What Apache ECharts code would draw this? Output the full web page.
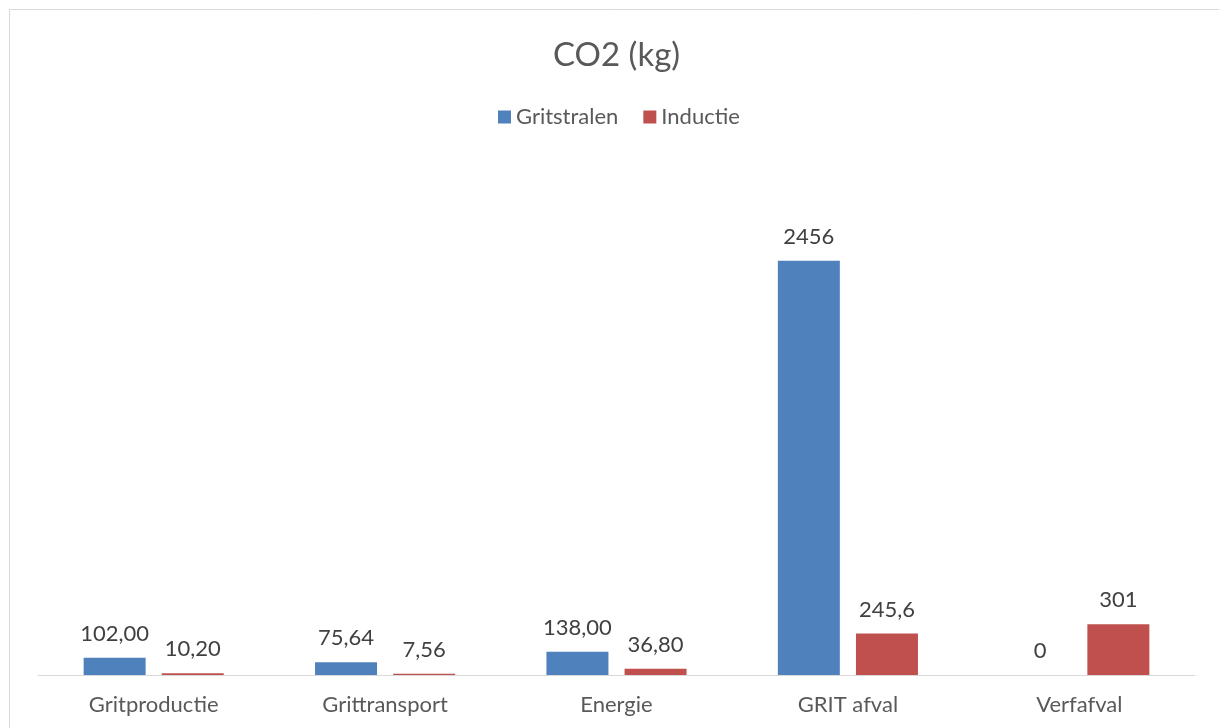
<!DOCTYPE html>
<html>
<head>
<meta charset="utf-8">
<script src="https://cdn.jsdelivr.net/npm/echarts@6/dist/echarts.min.js"></script>
<style>html,body{margin:0;padding:0;background:#fff;}#c{width:1219px;height:728px;}</style>
</head>
<body>
<div id="c"></div>
<script>
const categories = ["Gritproductie", "Grittransport", "Energie", "GRIT afval", "Verfafval"];
const gritstralen = [102.00, 75.64, 138.00, 2456, 0];
const inductie = [10.20, 7.56, 36.80, 245.6, 301];
const gritstralenLabels = ["102,00", "75,64", "138,00", "2456", "0"];
const inductieLabels = ["10,20", "7,56", "36,80", "245,6", "301"];

const font = "Lato, 'Liberation Sans', sans-serif";
const chart = echarts.init(document.getElementById('c'), null, {renderer: 'canvas'});
chart.setOption({
  animation: false,
  backgroundColor: '#fff',
  title: {
    text: 'CO2 (kg)', left: 548, top: 34,
    textStyle: {fontFamily: font, fontSize: 33, fontWeight: 'normal', color: '#595959'}
  },
  legend: {
    top: 101, left: 493, itemWidth: 13, itemHeight: 13, itemGap: 25,
    icon: 'rect',
    textStyle: {fontFamily: font, fontSize: 22, color: '#595959'},
    data: ['Gritstralen', 'Inductie']
  },
  graphic: [{
    type: 'rect', silent: true,
    shape: {x: 9.5, y: 9.5, width: 1300, height: 800},
    style: {fill: 'none', stroke: '#d9d9d9', lineWidth: 1}
  }],
  grid: {left: 38, right: 24, top: 169, bottom: 53},
  xAxis: {
    type: 'category', data: categories,
    axisLine: {lineStyle: {color: '#d9d9d9', width: 1}},
    axisTick: {show: false},
    axisLabel: {fontFamily: font, fontSize: 22, color: '#595959', margin: 19}
  },
  yAxis: {
    type: 'value', min: 0, max: 3000, interval: 500, show: false,
    splitLine: {show: false}
  },
  series: [
    {
      name: 'Gritstralen', type: 'bar', data: gritstralen,
      itemStyle: {color: '#4F81BD'},
      barWidth: 62, barGap: '26%',
      label: {show: true, position: 'top', distance: 13, fontFamily: font, fontSize: 22, color: '#404040',
        formatter: p => gritstralenLabels[p.dataIndex]}
    },
    {
      name: 'Inductie', type: 'bar', data: inductie,
      itemStyle: {color: '#C0504D'},
      barWidth: 62,
      label: {show: true, position: 'top', distance: 13, fontFamily: font, fontSize: 22, color: '#404040',
        formatter: p => inductieLabels[p.dataIndex]}
    }
  ]
});
</script>
</body>
</html>
